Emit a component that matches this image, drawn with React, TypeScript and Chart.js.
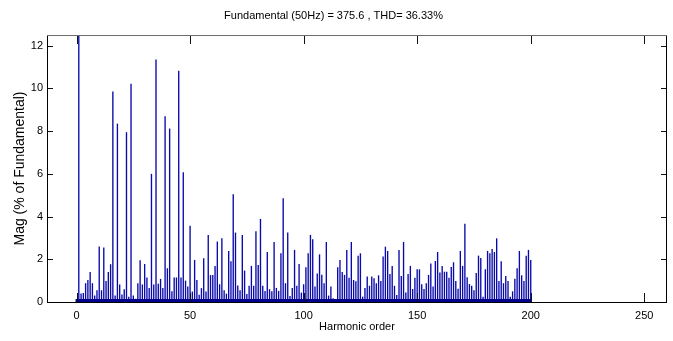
import React, { useEffect, useRef } from "react";
import { Chart, registerables } from "chart.js";

Chart.register(...registerables);

const chartTitle = "Fundamental (50Hz) = 375.6 , THD= 36.33%";
const xAxisTitle = "Harmonic order";
const yAxisTitle = "Mag (% of Fundamental)";
const xTickValues = [0, 50, 100, 150, 200, 250];
const yTickValues = [0, 2, 4, 6, 8, 10, 12];

// magnitude of harmonic orders 0..200 (% of fundamental)
const magnitudes = [
  0.12, 100, 0.4, 0.42, 0.88, 1.03, 1.4, 0.88, 0.3, 0.55,
  2.6, 0.55, 2.55, 0.98, 1.4, 1.77, 9.85, 0.3, 8.35, 0.82,
  0.35, 0.6, 7.95, 0.25, 10.22, 0.3, 0.15, 0.88, 1.95, 0.82,
  1.78, 1.15, 0.65, 6.0, 0.82, 11.35, 0.85, 1.08, 0.65, 8.7,
  1.58, 8.12, 0.5, 1.15, 1.15, 10.83, 1.15, 6.07, 1.0, 0.72,
  3.57, 0.49, 1.97, 1.03, 0.34, 0.65, 2.05, 0.49, 3.14, 1.26,
  1.26, 1.69, 2.83, 0.83, 2.98, 0.55, 0.39, 2.39, 1.91, 5.05,
  3.25, 0.77, 0.55, 3.14, 1.47, 0.37, 0.76, 1.69, 0.76, 3.31,
  1.73, 3.89, 0.76, 0.52, 2.34, 0.6, 0.5, 2.81, 0.66, 0.52,
  2.28, 4.86, 0.88, 3.25, 0.28, 0.66, 2.44, 0.76, 1.78, 0.44,
  0.83, 1.63, 2.28, 3.14, 2.94, 0.72, 1.34, 2.23, 1.27, 0.88,
  2.81, 0.3, 0.72, 0.17, 0.12, 1.63, 1.97, 1.41, 1.27, 2.44,
  1.14, 2.81, 1.03, 0.97, 2.16, 2.28, 0.25, 0.66, 1.19, 0.76,
  1.19, 1.11, 0.88, 1.25, 0.98, 2.13, 2.59, 2.39, 1.31, 1.69,
  0.76, 0.33, 2.44, 1.22, 2.81, 0.44, 1.31, 1.69, 0.61, 1.14,
  1.53, 1.53, 0.83, 0.61, 0.88, 1.27, 1.8, 0.72, 1.92, 2.34,
  1.38, 1.69, 1.42, 1.42, 1.14, 1.64, 1.86, 0.98, 0.62, 2.39,
  1.69, 3.66, 1.16, 0.84, 0.76, 0.55, 1.36, 2.17, 2.06, 0.25,
  1.53, 2.39, 2.28, 2.48, 2.34, 2.98, 0.98, 1.91, 0.88, 1.22,
  0.98, 0.25, 0.5, 1.09, 1.58, 2.39, 1.25, 0.98, 2.17, 2.44,
  1.97,
];

const textFont = '"Liberation Sans", Arial, sans-serif';

const boxPlugin = {
  id: "matlabBox",
  afterDatasetsDraw(chart: any) {
    // bar baseline from first to last harmonic
    const { ctx, scales } = chart;
    const x0 = scales.x.getPixelForValue(-0.4);
    const x1 = scales.x.getPixelForValue(magnitudes.length - 1 + 0.4);
    const y0 = scales.y.getPixelForValue(0);
    ctx.save();
    ctx.fillStyle = "rgb(0,0,140)";
    ctx.fillRect(x0, y0 - 3, x1 - x0, 3);
    ctx.restore();
  },
  afterDraw(chart: any) {
    const { ctx, chartArea: a, scales } = chart;
    ctx.save();
    ctx.lineWidth = 1;
    ctx.strokeStyle = "#111";
    for (const v of xTickValues) {
      const x = Math.round(scales.x.getPixelForValue(v)) + 0.5;
      ctx.beginPath();
      ctx.moveTo(x, a.bottom);
      ctx.lineTo(x, a.bottom - 9);
      ctx.moveTo(x, a.top);
      ctx.lineTo(x, a.top + 9);
      ctx.stroke();
    }
    for (const v of yTickValues) {
      const y = Math.round(scales.y.getPixelForValue(v)) + 0.5;
      ctx.beginPath();
      ctx.moveTo(a.left, y);
      ctx.lineTo(a.left + 6, y);
      ctx.moveTo(a.right, y);
      ctx.lineTo(a.right - 6, y);
      ctx.stroke();
    }
    ctx.strokeStyle = "#000";
    ctx.beginPath();
    ctx.moveTo(Math.round(a.left) + 0.5, Math.round(a.top) + 0.5);
    ctx.lineTo(Math.round(a.left) + 0.5, Math.round(a.bottom) + 0.5);
    ctx.lineTo(Math.round(a.right) - 0.5, Math.round(a.bottom) + 0.5);
    ctx.lineTo(Math.round(a.right) - 0.5, Math.round(a.top) + 0.5);
    ctx.stroke();
    ctx.strokeStyle = "#6e6e6e";
    ctx.beginPath();
    ctx.moveTo(Math.round(a.left), Math.round(a.top) + 0.5);
    ctx.lineTo(Math.round(a.right), Math.round(a.top) + 0.5);
    ctx.stroke();
    ctx.restore();
  },
};

export default function App() {
  const canvasRef = useRef<HTMLCanvasElement | null>(null);

  useEffect(() => {
    if (!canvasRef.current) return;
    const points = magnitudes.map((m, i) => ({ x: i, y: m }));
    const chart = new Chart(canvasRef.current, {
      type: "bar",
      data: {
        datasets: [
          {
            data: points as any,
            backgroundColor: "rgb(10,10,170)",
            borderWidth: 0,
            barPercentage: 1,
            categoryPercentage: 0.6,
            inflateAmount: 0,
          } as any,
        ],
      },
      options: {
        animation: false,
        responsive: false,
        devicePixelRatio: 1,
        layout: { padding: { left: 0, right: 6, top: 0, bottom: 0 } },
        plugins: {
          legend: { display: false },
          tooltip: { enabled: false },
          title: {
            display: true,
            text: chartTitle,
            color: "#000",
            font: { family: textFont, size: 11, weight: "normal" },
            padding: { top: 9.4, bottom: 12.4 },
          },
        },
        scales: {
          x: {
            type: "linear",
            offset: false,
            min: -13,
            max: 260,
            grid: { display: false, drawTicks: false, offset: false },
            border: { display: false },
            ticks: {
              stepSize: 50,
              includeBounds: false,
              color: "#000",
              padding: 7,
              maxRotation: 0,
              font: { family: textFont, size: 11 },
            },
            title: {
              display: true,
              text: xAxisTitle,
              color: "#000",
              font: { family: textFont, size: 11 },
              padding: 7,
            },
            afterFit(scale: any) {
              scale.height = 39;
            },
          },
          y: {
            min: 0,
            max: 12.5,
            grid: { display: false, drawTicks: false },
            border: { display: false },
            ticks: {
              stepSize: 2,
              includeBounds: false,
              color: "#000",
              padding: 4,
              font: { family: textFont, size: 11 },
            },
            title: {
              display: true,
              text: yAxisTitle,
              color: "#000",
              font: { family: textFont, size: 14 },
              padding: 11.6,
            },
            afterFit(scale: any) {
              scale.width = 47;
            },
          },
        },
      } as any,
      plugins: [boxPlugin],
    });
    return () => chart.destroy();
  }, []);

  return (
    <div style={{ position: "absolute", left: 0, top: 0, width: 673, height: 341, background: "#fff" }}>
      <canvas ref={canvasRef} width={673} height={341} style={{ width: 673, height: 341, display: "block" }} />
    </div>
  );
}
